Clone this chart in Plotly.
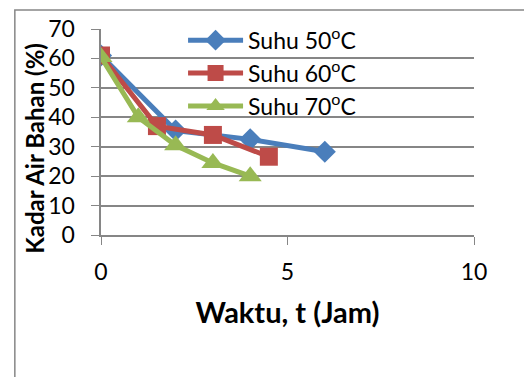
import plotly.graph_objects as go

# Data
t50 = [0, 2, 4, 6]
k50 = [61, 35.5, 32.5, 28.3]
t60 = [0, 1.5, 3, 4.5]
k60 = [61, 37, 34, 26.6]
t70 = [0, 1, 2, 3, 4]
k70 = [60.5, 40, 30.5, 24.5, 20]
names = ["Suhu 50<sup>o</sup>C", "Suhu 60<sup>o</sup>C", "Suhu 70<sup>o</sup>C"]

FONT = "Lato"
fig = go.Figure()
fig.add_trace(go.Scatter(x=t50, y=k50, name=names[0], mode="lines+markers",
                         line=dict(color="#4A7EBB", width=5),
                         marker=dict(symbol="diamond", size=17, color="#4A7EBB")))
fig.add_trace(go.Scatter(x=t60, y=k60, name=names[1], mode="lines+markers",
                         line=dict(color="#BE4B48", width=5),
                         marker=dict(symbol="square", size=18, color="#BE4B48")))
fig.add_trace(go.Scatter(x=t70, y=k70, name=names[2], mode="lines+markers",
                         line=dict(color="#98B954", width=5),
                         marker=dict(symbol="triangle-up", size=20, color="#98B954")))

fig.update_layout(
    width=524, height=377,
    margin=dict(l=101, r=50, t=29, b=142),
    paper_bgcolor="white", plot_bgcolor="white",
    font=dict(family=FONT, size=23, color="black"),
    showlegend=True,
    legend=dict(x=0.22, y=1.05, xanchor="left", yanchor="top",
                bgcolor="rgba(0,0,0,0)", font=dict(size=23, family=FONT),
                itemwidth=55, tracegroupgap=0),
    xaxis=dict(range=[0, 10], tickvals=[0, 5, 10], showgrid=False,
               showline=True, linecolor="#868686", linewidth=1.5,
               ticks="outside", ticklen=8, tickcolor="#868686",
               ticklabelstandoff=8, zeroline=False,
               tickfont=dict(size=23),
               title=dict(text="<b>Waktu, t (Jam)</b>", font=dict(size=29), standoff=18)),
    yaxis=dict(range=[0, 70], dtick=10, showgrid=True, gridcolor="#868686", gridwidth=1.5,
               showline=True, linecolor="#868686", linewidth=1.5,
               ticks="outside", ticklen=8, tickcolor="#868686", zeroline=False,
               ticksuffix="\u00a0\u00a0",
               tickfont=dict(size=23)),
    annotations=[dict(text="<b>Kadar Air Bahan (%)</b>", textangle=-90,
                      xref="paper", yref="paper", x=-0.179, y=0.42,
                      xanchor="center", yanchor="middle", showarrow=False,
                      font=dict(size=24, family=FONT, color="black"))],
    shapes=[dict(type="rect", xref="paper", yref="paper",
                 x0=-0.231, x1=1.2, y0=-0.75, y1=1.092,
                 line=dict(color="#868686", width=1.5), fillcolor="rgba(0,0,0,0)",
                 layer="below")],
)

fig.write_html("out.html")
